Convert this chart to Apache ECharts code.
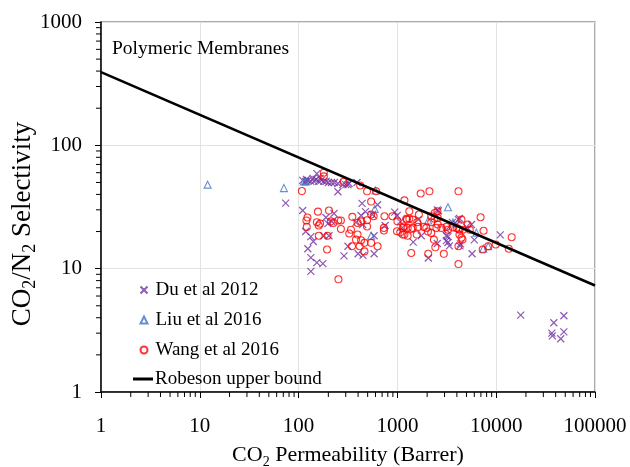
<!DOCTYPE html>
<html>
<head>
<meta charset="utf-8">
<script src="https://cdn.jsdelivr.net/npm/echarts@6/dist/echarts.min.js"></script>
<style>html,body{margin:0;padding:0;background:#fff}#c{width:630px;height:467px}</style>
</head>
<body>
<div id="c"></div>
<script>
const du2012 = [
[110,52],[118,51],[124,52],[133,51],[143,51],[150,53],[160,51],[170,52],[180,51],[190,51],[200,50],[215,50],[230,50],[250,49],[280,48],[300,48],[316,48],[324,49],[153,59],[140,54],[165,54],[120,53],[390,50],
[250,42],[74,34],[110,29.6],[439,33.8],[630,33],[429,27],[475,29],[560,27.5],[445,22.8],[228,28],[189,26],[198,23.2],[217,24.1],[118,20],[133,18.2],[141,16.6],[180,18.5],[203,18.5],[124,14.5],[133,12.3],[153,11.2],[176,11],[133,9.5],[288,12.7],[316,15.2],[400,13.2],[449,12.8],[581,13.2],[381,23.7],[581,18.5],[752,22.4],[940,28.7],[1068,24.1],[1119,21.5],[1446,16.4],[1745,18.5],[2056,12.2],[2535,30],[2535,16],[3133,18.5],[3133,16.9],[3357,15.3],[3133,20.7],[3600,23.7],[4150,25],[4300,15.3],[995,27],[1626,25],[2600,29.5],[4246,25.5],[5623,22.8],[5000,21.8],[6000,17.1],[4345,15.9],[5700,13.2],[11000,18.8],[3250,18.2],[3250,16.3],[3963,22.8],
[17700,4.2],[48400,4.15],[38300,3.64],[36600,3.0],[37000,2.85],[48400,3.07],[45000,2.7]
];
const liu2016 = [[12,48],[71,45],[113,51],[118,51],[600,43],[590,30.5],[542,18.5],[3250,31.5],[2050,24.6],[3650,23.7],[6300,19.6],[7400,14.5],[8300,15.2]];
const wang2016 = [
[108,42.6],[180,60],[180,56],[285,50.6],[420,47.3],[493,42.4],[542,35],[609,42.4],[1178,35.8],[1720,40.7],[2110,42.4],[4150,42.4],
[157,29],[203,29.6],[123,26],[120,24.6],[153,23.8],[165,23.2],[160,22.4],[212,24.2],[225,23.5],[252,24.6],[268,24.6],[121,21.8],[268,21],
[350,26.3],[395,23.5],[429,24.2],[493,24.7],[493,22],[542,27.5],[575,26.6],[339,20.7],[326,19.3],[395,18.9],[160,18.5],[196,18.5],
[381,17.2],[429,17],[464,16.2],[542,16.2],[347,15.2],[415,15.2],[630,15.2],[464,13.8],[194,14.3],[740,26.6],[730,21.4],[730,20.4],
[890,26.6],[1000,24.2],[990,20.1],[1070,19.7],[1178,18.9],[1270,18.5],[1160,22],[1250,25],[1320,29.2],[1430,25],[1270,21.4],[1430,21.4],
[1590,23.8],[1620,21.8],[1570,18.9],[2040,20],[1850,21.8],[2200,23.8],[2390,28.3],[2540,29.2],[2200,19.5],[2340,17.2],[2420,14.9],
[2950,13.2],[2050,13.2],[1380,13.4],[2560,22.8],[2786,21.4],[3250,20.7],[3650,21.6],[4150,21],[4150,15.2],[4150,10.9],[253,8.2],
[1650,27.5],[1230,25.4],[1320,25.4],[2200,26.6],[2370,25.4],[2560,25.8],[1140,21.4],[1380,21],[1960,21.4],[2480,21.4],[3130,21.8],
[3960,21.4],[4250,20.7],[4600,20.7],[5400,20.7],[4450,25],[5150,22.8],[6950,26.1],[7450,20.3],[4250,18.9],[4450,17.8],[4560,17.2],
[1130,18.9],[7300,14.3],[9900,15.7],[14350,18],[13400,14.5],[8300,15.2]
];
const robesonX = [1, 100000];
const robesonY = [392, 7.3];
const minorMultipliers = [2,3,4,5,6,7,8,9];
const xDecades = [1,10,100,1000,10000];
const yDecades = [1,10,100];

const FONT = 'Liberation Serif';
const xMinor = [];
xDecades.forEach(d => minorMultipliers.forEach(m => xMinor.push(m*d)));
const yMinor = [];
yDecades.forEach(d => minorMultipliers.forEach(m => yMinor.push(m*d)));

const xPath = 'path://M0,0L10,10M10,0L0,10';
const chart = echarts.init(document.getElementById('c'), null, {renderer:'canvas'});
const fmt = v => String(Math.round(v));
const subRich = size => ({
  a:{fontFamily:FONT, fontSize:size, color:'#000', lineHeight:size+5},
  s:{fontFamily:FONT, fontSize:Math.round(size*0.65), color:'#000', lineHeight:Math.round(size*0.65), verticalAlign:'bottom'}
});
chart.setOption({
  animation:false,
  backgroundColor:'#fff',
  title:{text:'Polymeric Membranes', left:107, top:34, textStyle:{fontFamily:FONT, fontSize:19.5, fontWeight:'normal', color:'#000'}},
  grid:{left:101, right:35, top:22, bottom:75, show:true, borderColor:'#8f8f8f', borderWidth:1.5, backgroundColor:'transparent', outerBoundsMode:'none', containLabel:false},
  graphic:[{
    type:'text', x:23, y:224, rotation:Math.PI/2,
    style:{text:'{a|CO}{s|2}{a|/N}{s|2}{a| Selectivity}', rich:subRich(27), align:'center', verticalAlign:'middle'}
  }],
  legend:[{
    orient:'vertical', left:134.5, top:274, itemWidth:7, itemHeight:7, itemGap:8,
    data:['Du et al 2012','Liu et al 2016','Wang et al 2016'],
    textStyle:{fontFamily:FONT, fontSize:19, color:'#000', lineHeight:22, padding:[0,0,0,3]}
  },{
    orient:'vertical', left:128, top:363, itemWidth:20, itemHeight:3,
    data:[{name:'Robeson upper bound', icon:'rect'}],
    itemStyle:{color:'#000'},
    textStyle:{fontFamily:FONT, fontSize:19, color:'#000', lineHeight:22, padding:[0,0,0,-3]}
  }],
  xAxis:{
    type:'log', logBase:10, min:1, max:100000,
    name:'{a|CO}{s|2}{a| Permeability (Barrer)}', nameLocation:'middle', nameGap:50,
    nameTextStyle:{rich:subRich(22)},
    axisLine:{lineStyle:{color:'#000', width:1.5}},
    axisTick:{show:true, length:6, lineStyle:{color:'#000'}},
    axisLabel:{fontFamily:FONT, fontSize:21, color:'#000', margin:24, formatter:fmt},
    splitLine:{show:true, lineStyle:{color:'#e3e3e3', width:1}}
  },
  yAxis:{
    type:'log', logBase:10, min:1, max:1000,
    axisLine:{lineStyle:{color:'#000', width:1.5}},
    axisTick:{show:true, length:6, lineStyle:{color:'#000'}},
    axisLabel:{fontFamily:FONT, fontSize:21, color:'#000', margin:19, formatter:fmt},
    splitLine:{show:true, lineStyle:{color:'#e3e3e3', width:1}}
  },
  series:[
    {type:'custom', silent:true, clip:false, data:xMinor.map(v=>[v,1]),
     renderItem:(p, api)=>{const c = api.coord([api.value(0),1]); return {type:'line', shape:{x1:c[0],y1:c[1],x2:c[0],y2:c[1]+5}, style:{stroke:'#000', lineWidth:1}};}},
    {type:'custom', silent:true, clip:false, data:yMinor.map(v=>[1,v]),
     renderItem:(p, api)=>{const c = api.coord([1,api.value(1)]); return {type:'line', shape:{x1:c[0]-5,y1:c[1],x2:c[0],y2:c[1]}, style:{stroke:'#000', lineWidth:1}};}},
    {name:'Du et al 2012', type:'scatter', data:du2012, symbol:xPath, symbolSize:7,
     itemStyle:{color:'transparent', borderColor:'#7030a0', borderWidth:1.2}},
    {name:'Liu et al 2016', type:'scatter', data:liu2016, symbol:'triangle', symbolSize:7,
     itemStyle:{color:'transparent', borderColor:'#4472c4', borderWidth:1.1}},
    {name:'Wang et al 2016', type:'scatter', data:wang2016, symbol:'circle', symbolSize:7,
     itemStyle:{color:'transparent', borderColor:'#ff0000', borderWidth:1.1}},
    {name:'Robeson upper bound', type:'line', data:robesonX.map((x,i)=>[x, robesonY[i]]), symbol:'none', showSymbol:false,
     lineStyle:{color:'#000', width:2.6}, itemStyle:{color:'#000'}}
  ]
});
</script>
</body>
</html>
